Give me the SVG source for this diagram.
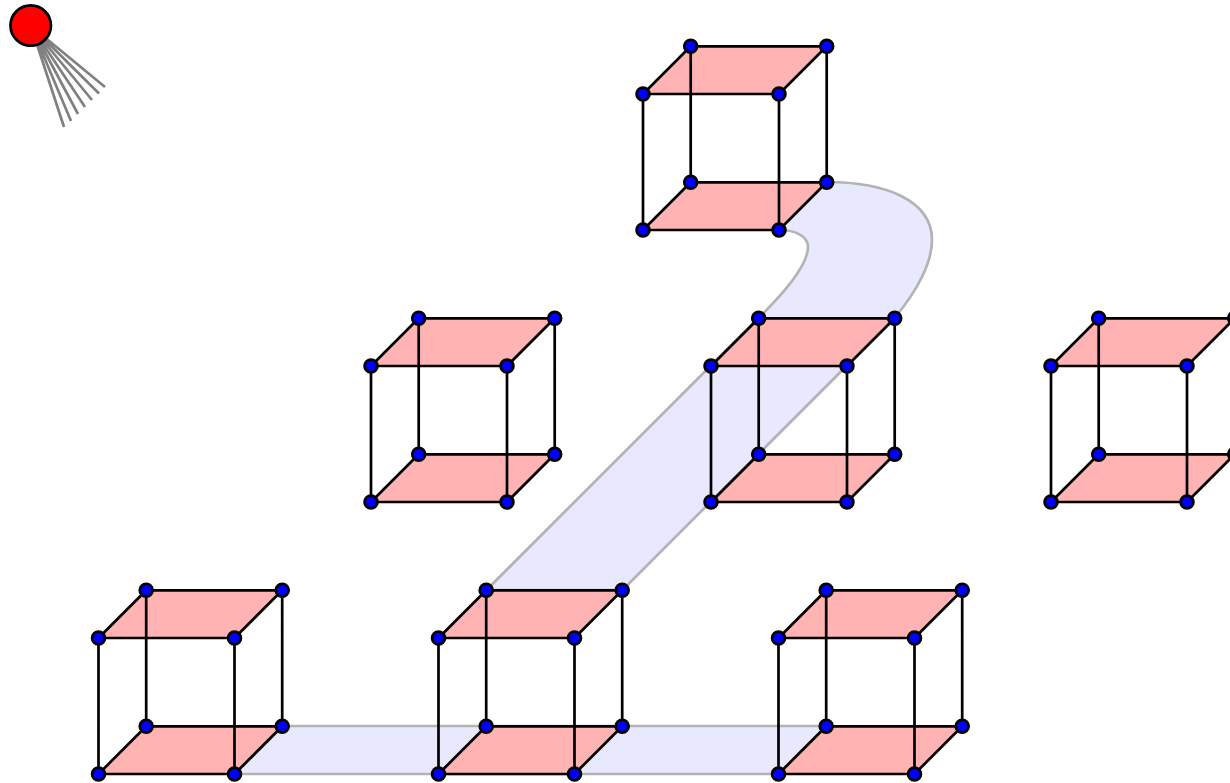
<svg xmlns="http://www.w3.org/2000/svg" width="1230" height="783" viewBox="0 0 1230 783">
<style>
.ribbon{fill:#e8e8fe;stroke:#b3b3b3;stroke-width:2.7;stroke-linejoin:round}
.face{fill:#ffb3b3;stroke:none}
.edge{fill:none;stroke:#000;stroke-width:2.7;stroke-linejoin:round}
.vertex{fill:#00f;stroke:#000;stroke-width:2.8}
.ray{stroke:#808080;stroke-width:2.7;fill:none}
.bulb{fill:#f00;stroke:#000;stroke-width:2.8}
</style>
<defs>
<g id="cube">
<path class="face" d="M0 0H136L183.700 -47.700H47.700ZM0 -136H136L183.700 -183.700H47.700Z"/>
<path class="edge" d="M0 0H136L183.700 -47.700H47.700ZM0 -136H136L183.700 -183.700H47.700ZM0 0V-136M136 0V-136M183.700 -47.700V-183.700M47.700 -47.700V-183.700"/>
<circle class="vertex" cx="0" cy="0" r="6.400"/><circle class="vertex" cx="136" cy="0" r="6.400"/>
<circle class="vertex" cx="183.700" cy="-47.700" r="6.400"/><circle class="vertex" cx="47.700" cy="-47.700" r="6.400"/>
<circle class="vertex" cx="0" cy="-136" r="6.400"/><circle class="vertex" cx="136" cy="-136" r="6.400"/>
<circle class="vertex" cx="183.700" cy="-183.700" r="6.400"/><circle class="vertex" cx="47.700" cy="-183.700" r="6.400"/>
</g>
</defs>
<g id="connectors">
<path class="ribbon" d="M234.500 774H778.500L826.500 726H282.500Z"/>
<path class="ribbon" d="M486.500 590L758.500 318C785 292 808 265 808 247C808 236 795 230 779 230L826.500 182C885 182 932 200 932 240C932 262 918 290 894.500 318L622.500 590Z"/>
</g>
<g id="light">
<path class="ray" d="M31 26L105 87M31 26L99 93.500M31 26L92 100M31 26L85 107M31 26L78 114M31 26L71 121M31 26L64 127"/>
<circle class="bulb" cx="30.700" cy="25.500" r="20.200"/>
</g>
<g id="cube-a" transform="translate(98.500 774)"><use href="#cube"/></g>
<g id="cube-b" transform="translate(438.500 774)"><use href="#cube"/></g>
<g id="cube-c" transform="translate(778.500 774)"><use href="#cube"/></g>
<g id="cube-d" transform="translate(371 502)"><use href="#cube"/></g>
<g id="cube-e" transform="translate(711 502)"><use href="#cube"/></g>
<g id="cube-f" transform="translate(1051 502)"><use href="#cube"/></g>
<g id="cube-g" transform="translate(643 230)"><use href="#cube"/></g>
</svg>
